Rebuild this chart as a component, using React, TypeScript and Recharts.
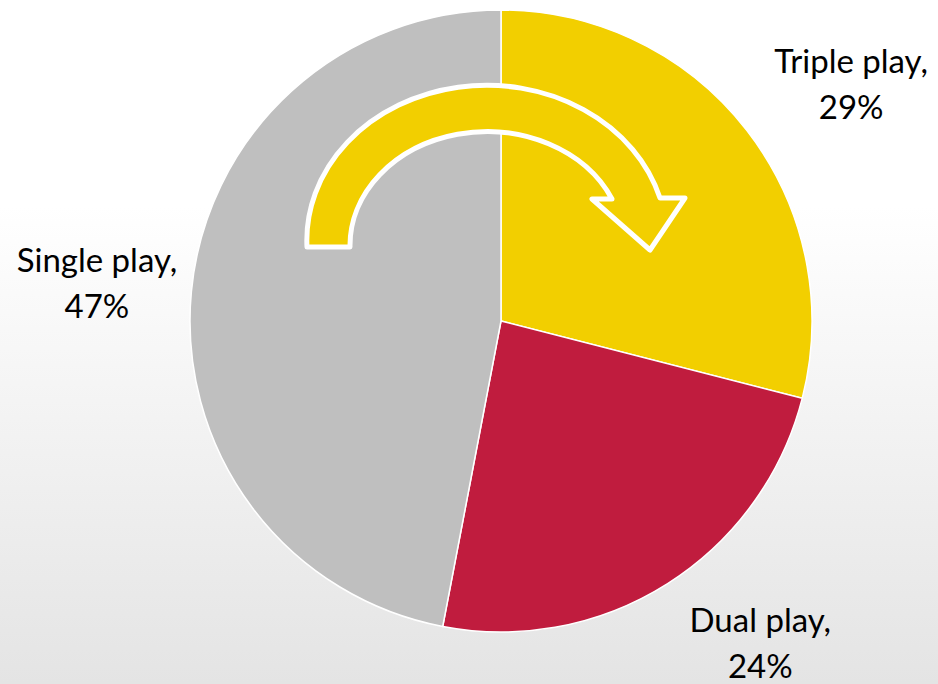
import React from "react";
import { PieChart, Pie, Cell } from "recharts";

const categories = ["Triple play", "Dual play", "Single play"];
const shares = [29, 24, 47];
const colors = ["#F2CF00", "#C01C3E", "#BFBFBF"];

const data = categories.map((name, i) => ({ name, value: shares[i] }));

const W = 938;
const H = 684;
const CX = 501;
const CY = 321;
const R = 311;

// label placement tweaks (style only)
const labelPlacement: Record<string, { r: number; dAngle: number }> = {
  "Triple play": { r: 429, dAngle: -2.5 },
  "Dual play": { r: 405, dAngle: 7.4 },
  "Single play": { r: 407, dAngle: -1.5 },
};

const RAD = Math.PI / 180;

const renderLabel = (props: any) => {
  const { cx, cy, midAngle, name, value } = props;
  const p = labelPlacement[name] || { r: R + 90, dAngle: 0 };
  const a = (midAngle + p.dAngle) * RAD;
  const x = cx + p.r * Math.cos(a);
  const y = cy - p.r * Math.sin(a);
  return (
    <text
      x={x}
      y={y}
      textAnchor="middle"
      fill="#000"
      style={{ fontFamily: "Lato, 'Open Sans', sans-serif", fontSize: 33 }}
    >
      <tspan x={x} y={y}>{name},</tspan>
      <tspan x={x} y={y + 46}>{value}%</tspan>
    </text>
  );
};

const Arrow = () => {
  // curved arrow drawn relative to pie centre
  const ox = CX - 14;
  const oy = CY - 74;
  const d = [
    `M ${ox - 180} ${oy}`,
    `A 180 155 0 0 1 ${ox + 173} ${oy - 49}`,
    `L ${ox + 198} ${oy - 49}`,
    `L ${ox + 163} ${oy + 3}`,
    `L ${ox + 105} ${oy - 48}`,
    `L ${ox + 125} ${oy - 48}`,
    `A 137 114 0 0 0 ${ox - 137} ${oy}`,
    "Z",
  ].join(" ");
  return (
    <svg
      width={W}
      height={H}
      style={{ position: "absolute", left: 0, top: 0, pointerEvents: "none" }}
    >
      <path
        d={d}
        fill="#F2CF00"
        stroke="#FFFFFF"
        strokeWidth={5}
        strokeLinejoin="round"
      />
    </svg>
  );
};

export default function App() {
  return (
    <div
      style={{
        position: "absolute",
        left: 0,
        top: 0,
        width: W,
        height: H,
        background:
          "linear-gradient(to bottom, #ffffff 0%, #ffffff 30%, #e4e4e4 100%)",
      }}
    >
      <PieChart width={W} height={H} margin={{ top: 0, right: 0, bottom: 0, left: 0 }}>
        <Pie
          data={data}
          dataKey="value"
          nameKey="name"
          cx={CX}
          cy={CY}
          outerRadius={R}
          startAngle={90}
          endAngle={-270}
          stroke="#FFFFFF"
          strokeWidth={1.5}
          label={renderLabel}
          labelLine={false}
          isAnimationActive={false}
        >
          {data.map((d, i) => (
            <Cell key={d.name} fill={colors[i]} />
          ))}
        </Pie>
      </PieChart>
      <Arrow />
    </div>
  );
}
